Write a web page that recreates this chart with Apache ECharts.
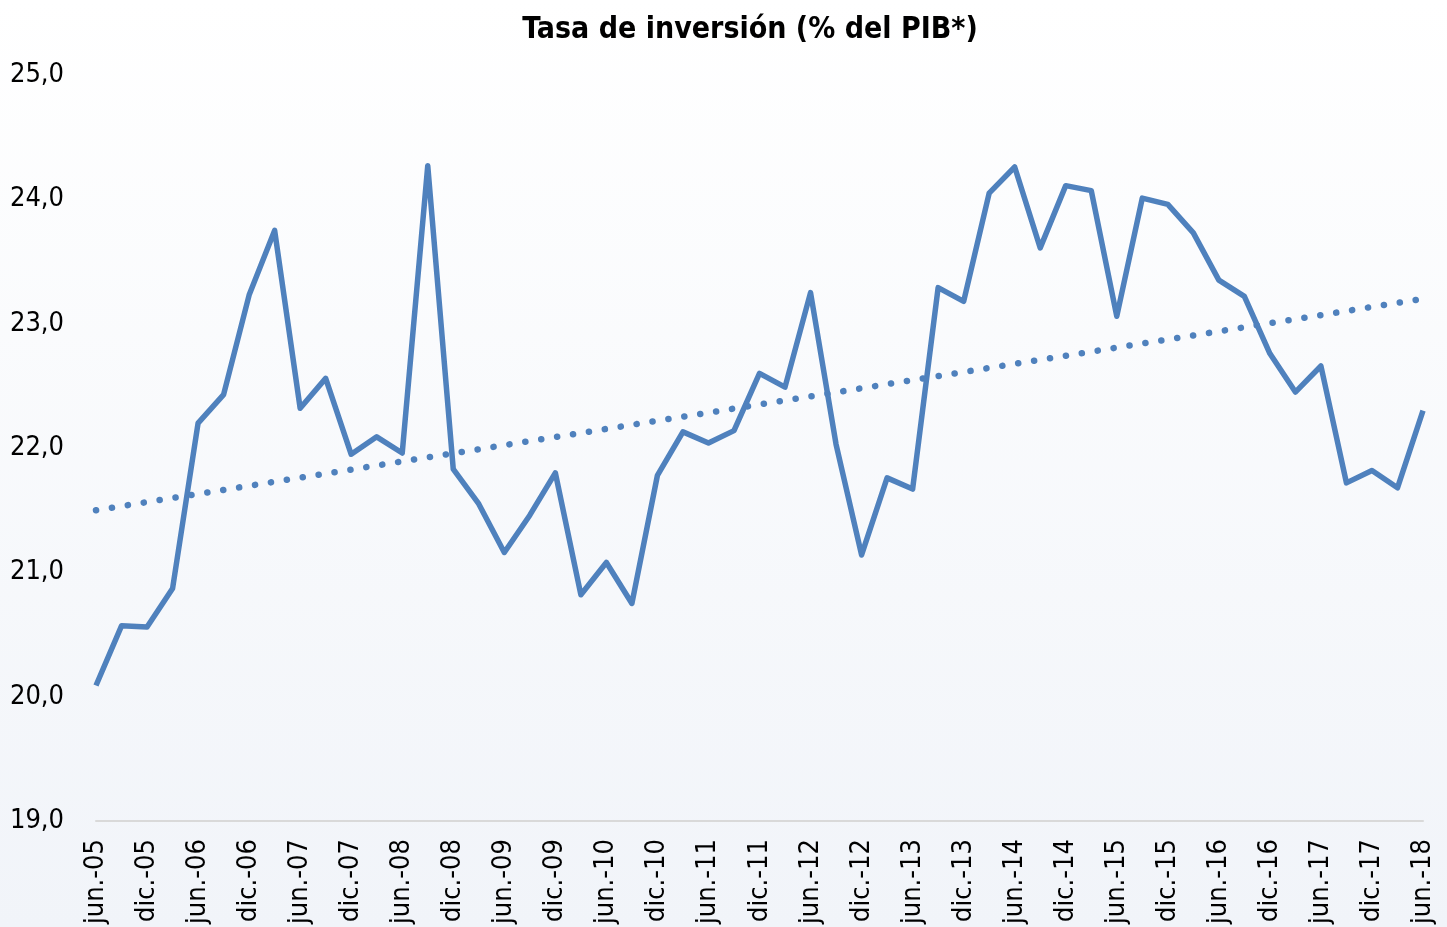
<!DOCTYPE html>
<html>
<head>
<meta charset="utf-8">
<script src="https://cdn.jsdelivr.net/npm/echarts@6/dist/echarts.min.js"></script>
<style>
    html, body { margin: 0; padding: 0; }
    #grafico {
        width: 1447px;
        height: 927px;
        background: linear-gradient(to bottom, #ffffff 0%, #f1f4f9 100%);
    }
</style>
</head>
<body>
<div id="grafico"></div>
<script>
    // trimestres jun.-05 .. jun.-18
    var trimestres = ['jun.-05','sep.-05','dic.-05','mar.-06','jun.-06','sep.-06','dic.-06','mar.-07',
        'jun.-07','sep.-07','dic.-07','mar.-08','jun.-08','sep.-08','dic.-08','mar.-09',
        'jun.-09','sep.-09','dic.-09','mar.-10','jun.-10','sep.-10','dic.-10','mar.-11',
        'jun.-11','sep.-11','dic.-11','mar.-12','jun.-12','sep.-12','dic.-12','mar.-13',
        'jun.-13','sep.-13','dic.-13','mar.-14','jun.-14','sep.-14','dic.-14','mar.-15',
        'jun.-15','sep.-15','dic.-15','mar.-16','jun.-16','sep.-16','dic.-16','mar.-17',
        'jun.-17','sep.-17','dic.-17','mar.-18','jun.-18'];

    // tasa de inversion (% del PIB)
    var tasaInversion = [20.09, 20.57, 20.56, 20.87, 22.20, 22.43, 23.23, 23.75,
        22.32, 22.56, 21.95, 22.09, 21.96, 24.27, 21.83, 21.55,
        21.16, 21.46, 21.80, 20.82, 21.08, 20.75, 21.78, 22.13,
        22.04, 22.14, 22.60, 22.49, 23.25, 22.03, 21.14, 21.76,
        21.67, 23.29, 23.18, 24.05, 24.26, 23.61, 24.11, 24.07,
        23.06, 24.01, 23.96, 23.73, 23.35, 23.22, 22.76, 22.45,
        22.66, 21.72, 21.82, 21.68, 22.30];

    // linea de tendencia: solo extremos
    var tendenciaInicio = 21.50;
    var tendenciaFin = 23.20;

    // ticks eje y
    var yMin = 19, yMax = 25, yPaso = 1;

    var tendencia = trimestres.map(function (t, i) {
        if (i === 0) return tendenciaInicio;
        if (i === trimestres.length - 1) return tendenciaFin;
        return null;
    });

    var fuente = "'Liberation Sans Narrow', 'Arial Narrow', 'DejaVu Sans Condensed', 'Liberation Sans', sans-serif";
    var azul = '#4f81bd';

    var grafico = echarts.init(document.getElementById('grafico'));
    var option = {
        animation: false,
        title: {
            text: 'Tasa de inversión (% del PIB*)',
            left: 745,
            textAlign: 'center',
            top: 10,
            textStyle: { fontFamily: fuente, fontSize: 30, fontWeight: 'bold', color: '#000' }
        },
        grid: { left: 96, right: 24, top: 75, bottom: 103 },
        xAxis: {
            type: 'category',
            boundaryGap: false,
            data: trimestres,
            axisLine: { lineStyle: { color: '#d9d9d9', width: 2 } },
            axisTick: { show: false },
            axisLabel: {
                interval: 1,
                rotate: 90,
                margin: 18,
                fontFamily: fuente,
                fontSize: 27,
                color: '#000'
            },
            splitLine: { show: false }
        },
        yAxis: {
            type: 'value',
            min: yMin,
            max: yMax,
            interval: yPaso,
            axisLine: { show: false },
            axisTick: { show: false },
            splitLine: { show: false },
            axisLabel: {
                margin: 32,
                fontFamily: fuente,
                fontSize: 27,
                color: '#000',
                formatter: function (v) { return v.toFixed(1).replace('.', ','); }
            }
        },
        series: [
            {
                name: 'Tasa de inversión',
                type: 'line',
                data: tasaInversion,
                symbol: 'none',
                lineStyle: { color: azul, width: 5.5, join: 'round' }
            },
            {
                name: 'Tendencia',
                type: 'line',
                data: tendencia,
                connectNulls: true,
                symbol: 'none',
                lineStyle: { color: azul, width: 6.5, type: [0.1, 16], cap: 'round' }
            }
        ]
    };
    grafico.setOption(option);
</script>
</body>
</html>
